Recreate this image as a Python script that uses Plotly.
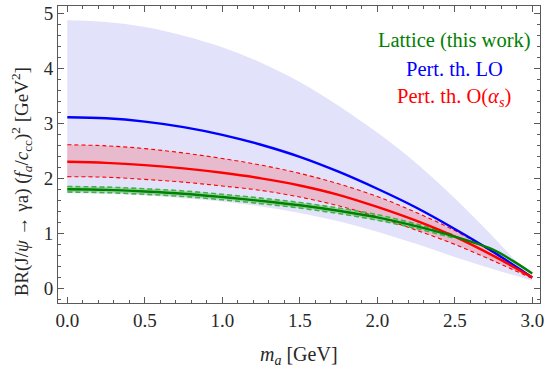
import plotly.graph_objects as go

# ---- data ----
m_a = [0.0, 0.25, 0.5, 0.75, 1.0, 1.25, 1.5, 1.75, 2.0, 2.25, 2.5, 2.75, 3.0]

lo_central = [3.11, 3.09, 3.03, 2.93, 2.79, 2.61, 2.39, 2.12, 1.81, 1.47, 1.08, 0.66, 0.20]
lo_upper   = [4.87, 4.84, 4.75, 4.59, 4.38, 4.10, 3.75, 3.32, 2.83, 2.28, 1.64, 0.93, 0.17]
lo_lower   = [1.73, 1.72, 1.69, 1.64, 1.58, 1.49, 1.37, 1.22, 1.03, 0.81, 0.57, 0.35, 0.14]

as_central = [2.30, 2.28, 2.24, 2.18, 2.10, 2.00, 1.87, 1.70, 1.48, 1.23, 0.94, 0.59, 0.20]
as_upper   = [2.61, 2.59, 2.54, 2.46, 2.36, 2.24, 2.09, 1.90, 1.67, 1.38, 1.05, 0.65, 0.21]
as_lower   = [2.03, 2.02, 1.98, 1.93, 1.86, 1.78, 1.66, 1.50, 1.30, 1.06, 0.80, 0.50, 0.18]

m_lat = [0.0, 0.25, 0.5, 0.75, 1.0, 1.25, 1.5, 1.75, 2.0, 2.25, 2.5, 2.75, 2.875, 3.0]
lat_central = [1.80, 1.79, 1.76, 1.72, 1.66, 1.59, 1.51, 1.41, 1.29, 1.13, 0.94, 0.70, 0.50, 0.27]

m_lat_band = [0.0, 0.25, 0.5, 0.75, 1.0, 1.25, 1.5, 1.75, 2.0, 2.25, 2.5]
lat_upper  = [1.85, 1.84, 1.81, 1.77, 1.71, 1.64, 1.56, 1.46, 1.34, 1.17, 0.97]
lat_lower  = [1.75, 1.74, 1.71, 1.67, 1.61, 1.54, 1.46, 1.36, 1.24, 1.09, 0.91]

x_ticks = [0.0, 0.5, 1.0, 1.5, 2.0, 2.5, 3.0]
y_ticks = [0, 1, 2, 3, 4, 5]

legend_labels = ["Lattice (this work)", "Pert. th. LO", "Pert. th. O(<i>α<sub>s</sub></i>)"]

BLUE = "rgb(0,0,255)"
RED = "rgb(255,0,0)"
GREEN = "rgb(0,128,0)"
FONT = "Liberation Serif"
TXT = "rgb(40,40,40)"

fig = go.Figure()

def band(x, lo, hi, fill):
    fig.add_trace(go.Scatter(x=x, y=lo, mode="lines", line=dict(width=0, shape="spline"),
                             showlegend=False, hoverinfo="skip"))
    fig.add_trace(go.Scatter(x=x, y=hi, mode="lines", line=dict(width=0, shape="spline"),
                             fill="tonexty", fillcolor=fill, showlegend=False, hoverinfo="skip"))

band(m_a, lo_lower, lo_upper, "rgb(226,226,250)")
band(m_a, as_lower, as_upper, "rgb(232,186,206)")
band(m_lat_band, lat_lower, lat_upper, "rgb(160,215,175)")

for ys in (as_upper, as_lower):
    fig.add_trace(go.Scatter(x=m_a, y=ys, mode="lines",
                             line=dict(color=RED, width=1.1, dash="4px,3px", shape="spline"),
                             showlegend=False))
for ys in (lat_upper, lat_lower):
    fig.add_trace(go.Scatter(x=m_lat_band, y=ys, mode="lines",
                             line=dict(color="rgb(70,175,70)", width=1.6, dash="5px,3px", shape="spline"),
                             showlegend=False))

fig.add_trace(go.Scatter(x=m_a, y=lo_central, mode="lines",
                         line=dict(color=BLUE, width=2.4, shape="spline"), showlegend=False))
fig.add_trace(go.Scatter(x=m_a, y=as_central, mode="lines",
                         line=dict(color=RED, width=2.4, shape="spline"), showlegend=False))
fig.add_trace(go.Scatter(x=m_lat, y=lat_central, mode="lines",
                         line=dict(color=GREEN, width=2.4, shape="spline"), showlegend=False))

axis_common = dict(
    showgrid=False, zeroline=False, showline=True, linecolor="rgb(90,90,90)", linewidth=1,
    mirror="allticks", ticks="inside", ticklen=6, tickcolor="rgb(90,90,90)", tickwidth=1,
    tickfont=dict(family=FONT, size=19, color=TXT),
)

fig.update_xaxes(range=[-0.06, 3.05], tickvals=x_ticks, ticktext=[f"{v:.1f}" for v in x_ticks],
                 minor=dict(dtick=0.1, ticks="inside", ticklen=3, tickcolor="rgb(90,90,90)", showgrid=False),
                 **axis_common)
fig.update_yaxes(range=[-0.265, 5.13], tickvals=y_ticks, ticktext=[str(v) for v in y_ticks],
                 minor=dict(dtick=0.2, ticks="inside", ticklen=3, tickcolor="rgb(90,90,90)", showgrid=False),
                 **axis_common)

W, H = 547, 373
ml, mr, mt, mb = 58, 5, 3, 70
pw, ph = W - ml - mr, H - mt - mb

def px(x):
    return (x - ml) / pw

def py(y):
    return (H - mb - y) / ph

ann = []
colors = [GREEN, BLUE, RED]
ys_leg = [38, 67, 95]
for lab, c, yy in zip(legend_labels, colors, ys_leg):
    ann.append(dict(x=px(456), y=py(yy), xref="paper", yref="paper", text=lab, showarrow=False,
                    xanchor="center", yanchor="middle", font=dict(family=FONT, size=20.5, color=c)))

ann.append(dict(x=px(300), y=py(356), xref="paper", yref="paper",
                text="<i>m<sub>a</sub></i> [GeV]", showarrow=False, xanchor="center", yanchor="middle",
                font=dict(family=FONT, size=20, color=TXT)))
ann.append(dict(x=px(21), y=py(181), xref="paper", yref="paper", textangle=-90,
                text="BR(J/<i>ψ</i> → γa) (<i>f<sub>a</sub></i>/<i>c</i><sub>cc</sub>)<sup>2</sup> [GeV<sup>2</sup>]",
                showarrow=False, xanchor="center", yanchor="middle",
                font=dict(family=FONT, size=19, color=TXT)))

fig.update_layout(width=W, height=H, margin=dict(l=ml, r=mr, t=mt, b=mb),
                  paper_bgcolor="white", plot_bgcolor="white", annotations=ann,
                  showlegend=False)

fig.write_html("out.html")
